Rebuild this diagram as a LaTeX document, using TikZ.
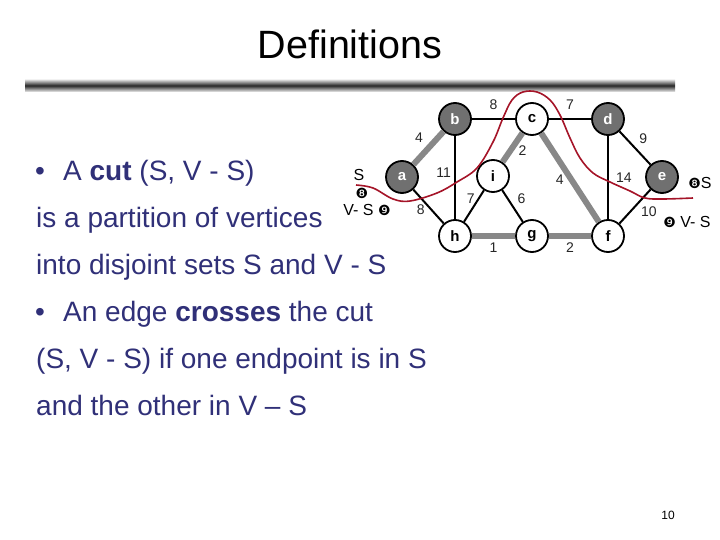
\documentclass[tikz,border=0pt]{standalone}
\usepackage{fontspec}
\setmainfont{Liberation Sans}
\newfontfamily\dingfont{DejaVu Sans}
\usetikzlibrary{positioning}
\definecolor{textnavy}{RGB}{48,48,120}
\definecolor{nodegray}{RGB}{112,112,112}
\definecolor{treegray}{RGB}{136,136,136}
\definecolor{cutred}{RGB}{165,20,40}
\newcommand{\ding}[1]{{\dingfont\fontsize{14}{14}\selectfont #1}}
\tikzset{
  slide/.style={
    anchor=base west,
    inner sep=0pt,
    text=textnavy,
    font=\fontsize{28}{34}\selectfont
  },
  insnode/.style={
    circle,
    draw=black,
    fill=nodegray,
    line width=1.8pt,
    minimum size=32pt,
    inner sep=0pt,
    text=white,
    font=\fontsize{15}{15}\selectfont\bfseries
  },
  outnode/.style={insnode, fill=white, text=black},
  treeedge/.style={draw=treegray, line width=6pt},
  plainedge/.style={draw=black, line width=2pt},
  elab/.style={inner sep=2pt, font=\fontsize{14}{14}\selectfont, text=black!85},
  setlab/.style={inner sep=0pt, font=\fontsize{16}{16}\selectfont},
  cutline/.style={draw=cutred, line width=1.6pt}
}
\begin{document}
\begin{tikzpicture}[x=1pt, y=-1pt]
  \fill[white] (0,0) rectangle (720,540);
  \useasboundingbox (0,0) rectangle (720,540);

  % title and bar
  \node[anchor=base, font=\fontsize{39.5}{40}\selectfont] (title) at (350,59) {Definitions};
  \shade[top color=gray!10, bottom color=gray!10, middle color=black!85] (25,79) rectangle (675,92);

  % slide text
  \node[slide] (bul1) at (35,181) {\textbullet};
  \node[slide] (cutdef) at (63,181) {A \textbf{cut} (S, V - S)};
  \node[slide] (part) at (36,227) {is a partition of vertices};
  \node[slide] (disj) at (36,274) {into disjoint sets S and V - S};
  \node[slide] (bul2) at (35,321) {\textbullet};
  \node[slide] (cross) at (63,321) {An edge \textbf{crosses} the cut};
  \node[slide] (endp) at (36,368) {(S, V - S) if one endpoint is in S};
  \node[slide] (other) at (36,415) {and the other in V – S};

  % vertices
  \node[insnode] (b) at (455,119) {b};
  \node[outnode] (c) at (532,119) {c};
  \node[insnode] (d) at (608,119) {d};
  \node[insnode] (a) at (402,177) {a};
  \node[outnode] (i) at (493,176) {i};
  \node[insnode] (e) at (662,177) {e};
  \node[outnode] (h) at (455,236) {h};
  \node[outnode] (g) at (532,236) {g};
  \node[outnode] (f) at (608,236) {f};

  % edges
  \draw[treeedge] (a) -- node[elab, above left=1pt] {4} (b);
  \draw[plainedge] (b) -- node[elab, above=6pt] {8} (c);
  \draw[plainedge] (c) -- node[elab, above=6pt] {7} (d);
  \draw[plainedge] (d) -- node[elab, above right=2pt] {9} (e);
  \draw[plainedge] (b) -- node[elab, pos=.44, left=1pt] {11} (h);
  \draw[plainedge] (a) -- node[elab, pos=.6, left=4pt] {8} (h);
  \draw[treeedge] (c) -- node[elab, pos=.6, right=3pt] {2} (i);
  \draw[plainedge] (h) -- node[elab, pos=.74, left=1pt] {7} (i);
  \draw[plainedge] (i) -- node[elab, pos=.26, right=7pt] {6} (g);
  \draw[treeedge] (c) -- node[elab, pos=.53, left=3pt] {4} (f);
  \draw[plainedge] (d) -- node[elab, right=5pt] {14} (f);
  \draw[plainedge] (e) -- node[elab, pos=.655, right=8pt] {10} (f);
  \draw[treeedge] (h) -- node[elab, below=2pt] {1} (g);
  \draw[treeedge] (g) -- node[elab, below=2pt] {2} (f);

  % set labels
  \node[setlab] (sleft) at (359,175) {S};
  \node[setlab] (inleft) at (362,193) {\ding{❽}};
  \node[setlab] (vsleft) at (367,210) {V- S \ding{❾}};
  \node[setlab] (sright) at (700,183) {\ding{❽}S};
  \node[setlab] (vsright) at (687,222) {\ding{❾} V- S};

  % the cut
  \draw[cutline] plot[smooth, tension=.6] coordinates {
    (356,185) (373,188) (393,199) (410,201) (437,193) (457,182) (477,168)
    (493,142) (503,118) (512,100) (523,92) (537,92) (550,100) (560,115)
    (570,138) (580,158) (593,173) (610,182) (630,191) (645,198) (663,199) (693,198)};

  \node[font=\fontsize{12}{12}\selectfont] (pgnum) at (668,515) {10};
\end{tikzpicture}
\end{document}
